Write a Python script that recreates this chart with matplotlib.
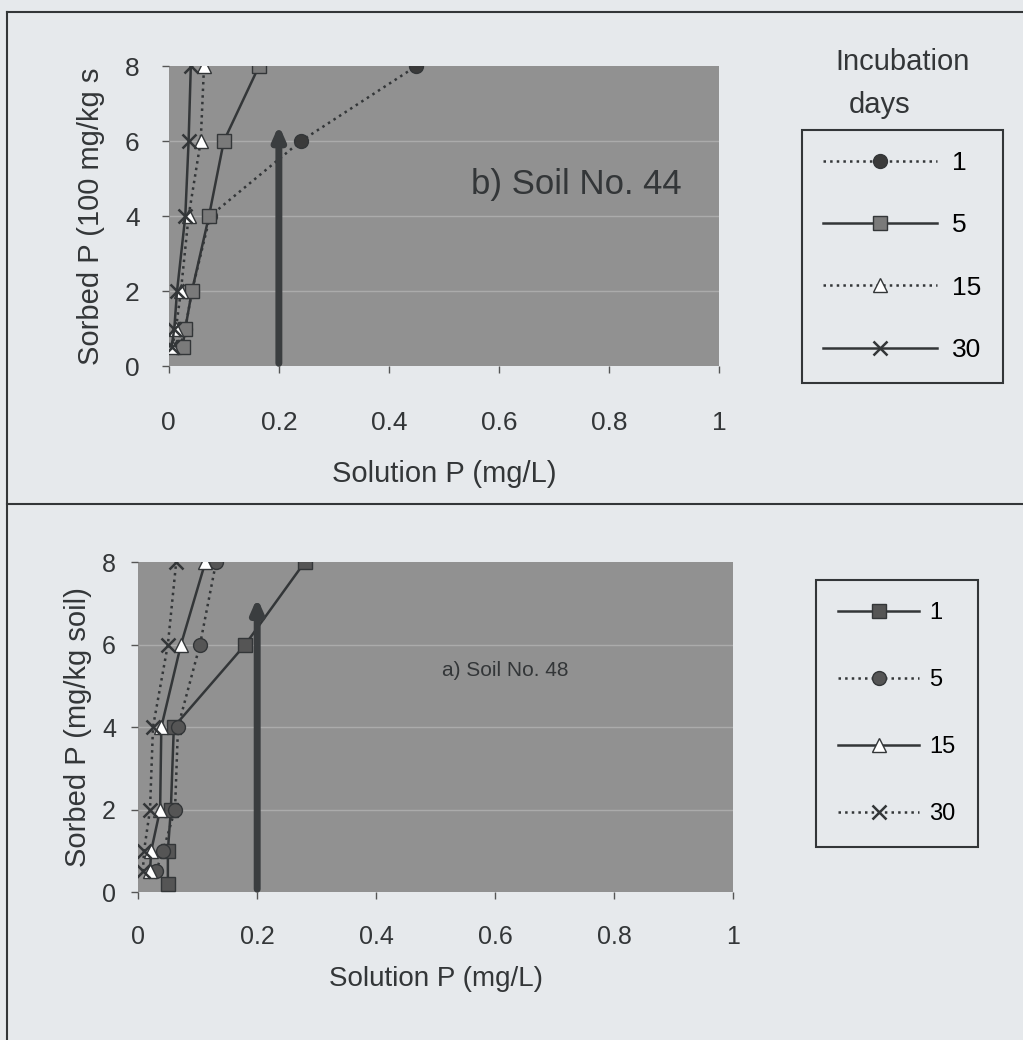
import matplotlib
matplotlib.use("Agg")
import matplotlib.pyplot as plt
from matplotlib.lines import Line2D

plt.rcParams['font.family'] = ['Liberation Sans', 'DejaVu Sans']

# ---------------- data ----------------
days = ["1", "5", "15", "30"]
sorbed_levels = [0.5, 1, 2, 4, 6, 8]

# b) Soil No. 44 (top panel)
b_sol_1 = [0.02, 0.03, 0.042, 0.075, 0.24, 0.45]
b_sol_5 = [0.025, 0.03, 0.042, 0.073, 0.10, 0.164]
b_sol_15 = [0.006, 0.013, 0.022, 0.036, 0.058, 0.064]
b_sol_30 = [0.005, 0.01, 0.015, 0.03, 0.036, 0.04]

# a) Soil No. 48 (bottom panel)
a_sorbed_1 = [0.2, 1, 2, 4, 6, 8]
a_sol_1 = [0.05, 0.05, 0.055, 0.06, 0.18, 0.28]
a_sol_5 = [0.03, 0.042, 0.062, 0.067, 0.104, 0.131]
a_sol_15 = [0.02, 0.022, 0.037, 0.039, 0.072, 0.113]
a_sol_30 = [0.008, 0.01, 0.02, 0.025, 0.05, 0.064]

x_ticks = [0, 0.2, 0.4, 0.6, 0.8, 1]
x_tick_labels = ["0", "0.2", "0.4", "0.6", "0.8", "1"]
y_ticks = [0, 2, 4, 6, 8]

b_arrow = (0.2, 6.5)
a_arrow = (0.2, 7.2)

# ---------------- style ----------------
BG = "#e6e9ec"
FACE = "#919191"
DARK = "#333638"

fig = plt.figure(figsize=(10.23, 10.4), dpi=100)
fig.patch.set_facecolor(BG)

# frame lines (panel boxes)
for (xs, ys) in [([0.007, 0.007], [0.0, 0.9885]),
                 ([0.007, 1.0], [0.9885, 0.9885]),
                 ([0.007, 1.0], [0.5154, 0.5154])]:
    fig.add_artist(Line2D(xs, ys, color=DARK, lw=1.5, transform=fig.transFigure))


def setup(ax, tick_fs, xpad, ypad):
    ax.set_facecolor(FACE)
    for s in ax.spines.values():
        s.set_visible(False)
    ax.set_xlim(0, 1)
    ax.set_ylim(0, 8)
    ax.set_xticks(x_ticks)
    ax.set_xticklabels(x_tick_labels)
    ax.set_yticks(y_ticks)
    ax.tick_params(axis='both', direction='out', length=5, width=1,
                   color="#555555", labelsize=tick_fs, labelcolor=DARK)
    ax.tick_params(axis='x', pad=xpad)
    ax.tick_params(axis='y', pad=ypad)
    for yv in y_ticks[1:-1]:
        ax.axhline(yv, color="#bdbdbd", lw=1, alpha=0.6, zorder=1)


def arrow(ax, pos):
    ax.annotate('', xy=pos, xytext=(pos[0], 0),
                arrowprops=dict(arrowstyle='-|>,head_width=0.35,head_length=0.8',
                                lw=5, color="#3a3d3f"), zorder=5)

mk = dict(markersize=10, markeredgecolor=DARK, zorder=4)

# ---------------- top panel ----------------
ax1 = fig.add_axes([0.165, 0.648, 0.538, 0.2885])
setup(ax1, 19, 27, 16)
l1 = ax1.plot(b_sol_1, sorbed_levels, ls=':', color=DARK, lw=1.8, marker='o',
              markerfacecolor="#3a3a3a", **mk)[0]
l5 = ax1.plot(b_sol_5, sorbed_levels, ls='-', color=DARK, lw=1.8, marker='s',
              markerfacecolor="#7a7a7a", **mk)[0]
l15 = ax1.plot(b_sol_15, sorbed_levels, ls=':', color=DARK, lw=1.8, marker='^',
               markerfacecolor="white", **mk)[0]
l30 = ax1.plot(b_sol_30, sorbed_levels, ls='-', color=DARK, lw=1.8, marker='x',
               markeredgewidth=1.8, **mk)[0]
arrow(ax1, b_arrow)
ax1.text(0.74, 4.85, "b) Soil No. 44", fontsize=25, color=DARK, ha='center', va='center')
ax1.set_xlabel("Solution P (mg/L)", fontsize=21, color=DARK, labelpad=18)
ax1.set_ylabel("Sorbed P (100 mg/kg s", fontsize=21, color=DARK, labelpad=14)

fig.text(903 / 1023, 1 - 62 / 1040, "Incubation", fontsize=21, color=DARK,
         ha='center', va='center')
fig.text(880 / 1023, 1 - 105 / 1040, "days", fontsize=21, color=DARK,
         ha='center', va='center')
leg1 = fig.legend([l1, l5, l15, l30], days, loc='upper left',
                  bbox_to_anchor=(802 / 1023, 1 - 130 / 1040), fontsize=19,
                  frameon=True, fancybox=False, edgecolor=DARK, facecolor=BG,
                  framealpha=1, handlelength=4.3, labelspacing=1.45,
                  borderpad=0.8, handletextpad=0.6, borderaxespad=0)
leg1.get_frame().set_linewidth(1.5)

# ---------------- bottom panel ----------------
ax2 = fig.add_axes([0.135, 0.1423, 0.582, 0.3173])
setup(ax2, 18, 19, 11)
m1 = ax2.plot(a_sol_1, a_sorbed_1, ls='-', color=DARK, lw=1.8, marker='s',
              markerfacecolor="#555555", **mk)[0]
m5 = ax2.plot(a_sol_5, sorbed_levels, ls=':', color=DARK, lw=1.8, marker='o',
              markerfacecolor="#555555", **mk)[0]
m15 = ax2.plot(a_sol_15, sorbed_levels, ls='-', color=DARK, lw=1.8, marker='^',
               markerfacecolor="white", **mk)[0]
m30 = ax2.plot(a_sol_30, sorbed_levels, ls=':', color=DARK, lw=1.8, marker='x',
               markeredgewidth=1.8, **mk)[0]
arrow(ax2, a_arrow)
ax2.text(0.617, 5.36, "a) Soil No. 48", fontsize=15, color=DARK, ha='center', va='center')
ax2.set_xlabel("Solution P (mg/L)", fontsize=20, color=DARK, labelpad=12)
ax2.set_ylabel("Sorbed P (mg/kg soil)", fontsize=21, color=DARK, labelpad=7)

leg2 = fig.legend([m1, m5, m15, m30], days, loc='upper left',
                  bbox_to_anchor=(816 / 1023, 1 - 580 / 1040), fontsize=17,
                  frameon=True, fancybox=False, edgecolor=DARK, facecolor=BG,
                  framealpha=1, handlelength=3.4, labelspacing=1.9,
                  borderpad=0.95, handletextpad=0.45, borderaxespad=0)
leg2.get_frame().set_linewidth(1.5)

fig.savefig("out.png", dpi=100, facecolor=BG)
